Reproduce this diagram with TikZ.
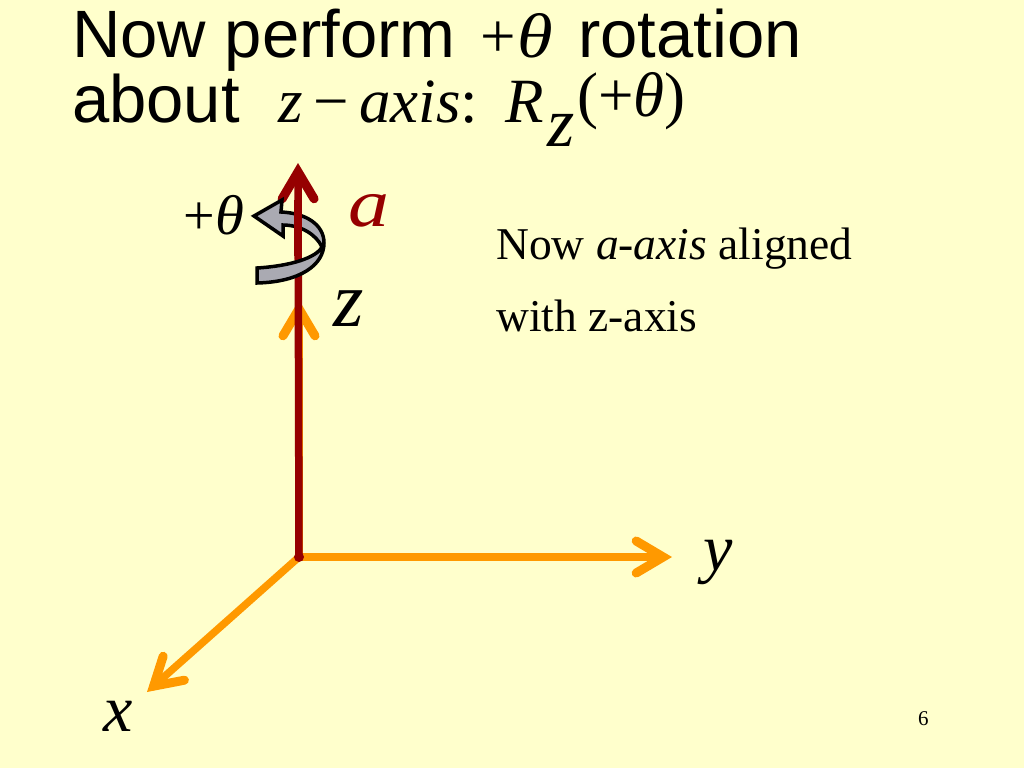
\documentclass[tikz,border=0pt]{standalone}
\usepackage{fontspec}
\setmainfont{Liberation Serif}
\newfontfamily\titlefont{Liberation Sans}
\usetikzlibrary{arrows.meta}
\definecolor{slidebg}{RGB}{255,255,204}
\definecolor{axisorange}{RGB}{255,153,0}
\definecolor{axisred}{RGB}{150,0,0}
\definecolor{ribbongray}{RGB}{170,170,178}
\newcommand{\widetheta}[1]{\scalebox{#1}[1]{\textit{θ}}}
\tikzset{
  axis/.style={line width=7.5pt,color=axisorange,line cap=round,-{Straight Barb[length=27pt,width=32pt,line width=9pt,line cap=round,line join=miter]}},
  aaxis/.style={axis,color=axisred},
  title/.style={font=\titlefont\fontsize{67}{67}\selectfont,anchor=base west,inner sep=0pt},
  sym/.style={font=\itshape\fontsize{66}{66}\selectfont,inner sep=0pt,anchor=base west},
  mathsym/.style={font=\fontsize{63}{63}\selectfont,inner sep=0pt,anchor=base west},
  note/.style={font=\fontsize{45.5}{45.5}\selectfont,inner sep=0pt,anchor=base west}
}
\begin{document}
\begin{tikzpicture}[x=1pt,y=1pt]
\fill[slidebg] (0,0) rectangle (1024,-768);
\useasboundingbox (0,0) rectangle (1024,-768);
\coordinate (origin) at (299,-557);
\coordinate (ztip) at (299,-300);
\coordinate (ytip) at (672,-557);
\coordinate (xtip) at (147,-692);
\coordinate (atip) at (298,-163);
% title
\node[title] (now) at (72,-57) {Now perform};
\node[mathsym] (plus) at (480,-57) {+\hspace{2pt}\widetheta{1.15}};
\node[title] (rot) at (578,-57) {rotation};
\node[title] (about) at (72,-122) {about};
\node[mathsym] (zaxis) at (278,-122) {\textit{z}\,−\,\textit{axis}:};
\node[mathsym] (rz) at (505,-122) {\textit{R}};
\node[mathsym,font=\fontsize{70}{70}\selectfont] (rzsub) at (547,-146) {\textit{z}};
\node[mathsym] (rzarg) at (577,-116) {(+\textit{θ})};
% axes
\draw[axis] (origin) -- (ztip);
\draw[axis] (origin) -- (ytip);
\draw[axis] (origin) -- (xtip);
\draw[aaxis] (origin) -- (atip);
\fill[axisred] (origin) circle (5pt);
% rotation ribbon
\draw[line width=3.5pt,fill=ribbongray,line join=miter]
  (254,-216) -- (282,-200) -- (281,-212)
  .. controls (305,-213) and (324,-224) .. (324,-243)
  .. controls (324,-265) and (300,-282) .. (257,-283)
  -- (257,-268)
  .. controls (290,-266) and (316,-258) .. (322,-247)
  .. controls (316,-234) and (300,-225) .. (283,-225)
  -- (283,-236) -- cycle;
\draw[axisred,line width=7.5pt] (298,-200) -- (298,-256);
% labels
\node[mathsym,font=\fontsize{56}{56}\selectfont] (theta) at (183,-234) {+\hspace{1pt}\widetheta{1.05}};
\node[sym,text=axisred,font=\itshape\fontsize{82}{82}\selectfont] (alabel) at (348,-226) {\scalebox{1}[.83]{a}};
\node[sym,font=\itshape\fontsize{78}{78}\selectfont] (zlabel) at (333,-326) {z};
\node[sym] (ylabel) at (703,-570) {y};
\node[sym] (xlabel) at (103,-731) {x};
\node[note] (line1) at (496,-259) {Now \textit{a-axis} aligned};
\node[note] (line2) at (496,-331) {with z-axis};
\node[font=\fontsize{21}{21}\selectfont,inner sep=0pt,anchor=base west] (page) at (918,-725) {6};
\end{tikzpicture}
\end{document}
